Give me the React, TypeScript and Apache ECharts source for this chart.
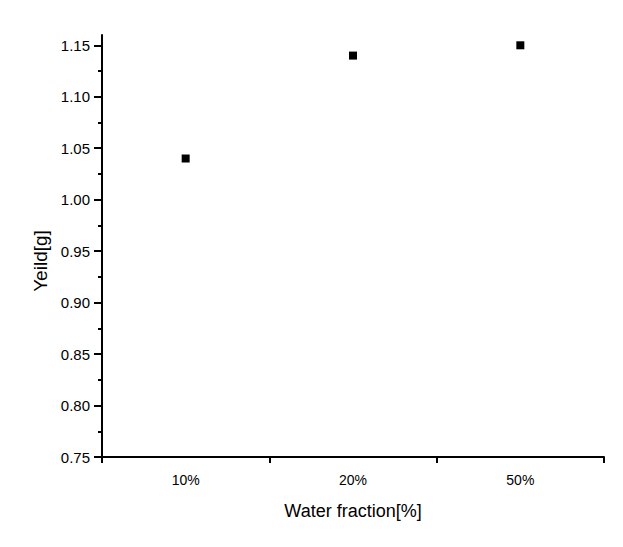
import React, { useEffect, useRef } from "react";
import * as echarts from "echarts";

const categories = ["10%", "20%", "50%"];
const yieldValues = [1.04, 1.14, 1.15];
const majorTicks = [0.75, 0.8, 0.85, 0.9, 0.95, 1.0, 1.05, 1.1, 1.15];
const minorTicks = [0.775, 0.825, 0.875, 0.925, 0.975, 1.025, 1.075, 1.125];
const xTitle = "Water fraction[%]";
const yTitle = "Yeild[g]";

export default function App() {
  const ref = useRef<HTMLDivElement>(null);
  useEffect(() => {
    if (!ref.current) return;
    const chart = echarts.init(ref.current, undefined, { renderer: "svg" });
    const font = "'Liberation Sans', Arial, sans-serif";
    const axisLine = { show: true, lineStyle: { color: "#000", width: 2 } };
    chart.setOption({
      animation: false,
      backgroundColor: "#fff",
      textStyle: { fontFamily: font, color: "#000" },
      grid: { left: 102, right: 19, top: 35, bottom: 90, containLabel: false },
      graphic: [
        {
          type: "text",
          x: 40,
          y: 261,
          rotation: Math.PI / 2,
          style: {
            text: yTitle,
            fontSize: 19,
            fontFamily: font,
            fill: "#000",
            align: "center",
            verticalAlign: "middle",
          },
        },
      ],
      xAxis: {
        type: "category",
        data: categories,
        boundaryGap: true,
        axisLine,
        axisTick: { show: true, interval: 0, length: 6, inside: false, lineStyle: { color: "#000", width: 2 } },
        axisLabel: { color: "#000", fontSize: 14, margin: 16, fontFamily: font },
        splitLine: { show: false },
        name: xTitle,
        nameLocation: "middle",
        nameGap: 45,
        nameTextStyle: { color: "#000", fontSize: 18, fontFamily: font },
      },
      yAxis: [
        {
          type: "value",
          min: 0.75,
          max: 1.16,
          axisLine,
          axisTick: {
            show: true,
            length: 8,
            customValues: majorTicks,
            lineStyle: { color: "#000", width: 2 },
          },
          axisLabel: {
            color: "#000",
            fontSize: 15,
            margin: 12,
            fontFamily: font,
            customValues: majorTicks,
            formatter: (v: number) => v.toFixed(2),
          },
          splitLine: { show: false },
        },
        {
          type: "value",
          min: 0.75,
          max: 1.16,
          position: "left",
          axisLine: { show: false },
          axisTick: {
            show: true,
            length: 4,
            customValues: minorTicks,
            lineStyle: { color: "#000", width: 2 },
          },
          axisLabel: { show: false },
          splitLine: { show: false },
        },
      ],
      series: [
        {
          type: "scatter",
          data: yieldValues,
          symbol: "rect",
          symbolSize: [8, 8],
          itemStyle: { color: "#000", opacity: 1 },
        },
      ],
    });
    return () => chart.dispose();
  }, []);
  return (
    <div
      ref={ref}
      style={{ position: "fixed", left: 0, top: 0, width: 623, height: 547 }}
    />
  );
}
